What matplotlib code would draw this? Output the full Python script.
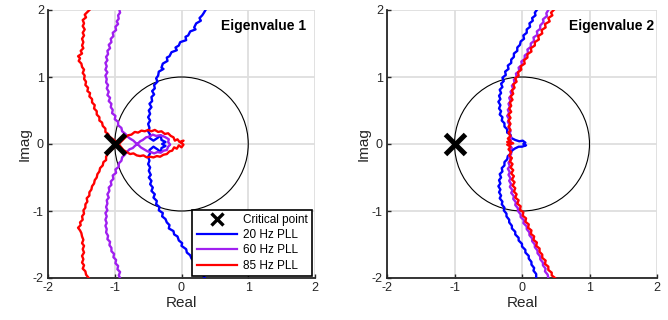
import numpy as np
import matplotlib
matplotlib.use("Agg")
import matplotlib.pyplot as plt
from matplotlib.patches import Circle
from matplotlib.lines import Line2D

plt.rcParams['font.family'] = ['Liberation Sans', 'DejaVu Sans']
plt.rcParams['axes.unicode_minus'] = False

# ---------------- data (Real, Imag) ----------------
ev1_20hz = np.array([
 (0.36,2.00),(0.33,1.95),(0.31,1.92),(0.27,1.88),(0.29,1.84),(0.22,1.80),(0.19,1.74),(0.21,1.71),(0.13,1.68),(0.10,1.62),
 (0.06,1.60),(0.07,1.55),(-0.02,1.52),(-0.04,1.47),(-0.09,1.44),(-0.07,1.40),(-0.15,1.37),(-0.18,1.31),(-0.22,1.29),(-0.21,1.24),
 (-0.28,1.20),(-0.30,1.14),(-0.27,1.12),(-0.34,1.08),(-0.35,1.02),(-0.38,0.98),(-0.36,0.93),(-0.41,0.88),(-0.40,0.83),(-0.44,0.79),
 (-0.41,0.74),(-0.45,0.70),(-0.44,0.64),(-0.48,0.60),(-0.45,0.55),(-0.49,0.50),(-0.47,0.45),(-0.50,0.40),(-0.47,0.35),(-0.50,0.30),
 (-0.48,0.24),(-0.50,0.19),(-0.47,0.14),(-0.48,0.09),
 (-0.42,0.05),(-0.36,0.09),(-0.31,0.13),(-0.30,0.06),(-0.24,0.03),(-0.29,0.00),(-0.24,-0.03),(-0.30,-0.06),(-0.31,-0.12),
 (-0.36,-0.08),(-0.42,-0.04),(-0.48,-0.09),
 (-0.47,-0.14),(-0.50,-0.19),(-0.48,-0.25),(-0.50,-0.30),(-0.47,-0.35),(-0.49,-0.40),(-0.46,-0.46),(-0.49,-0.50),(-0.45,-0.55),
 (-0.47,-0.60),(-0.43,-0.65),(-0.45,-0.70),(-0.40,-0.75),(-0.42,-0.80),(-0.37,-0.85),(-0.38,-0.90),(-0.33,-0.94),(-0.34,-0.99),
 (-0.28,-1.03),(-0.29,-1.08),(-0.24,-1.12),(-0.22,-1.17),(-0.18,-1.21),(-0.19,-1.26),(-0.12,-1.30),(-0.11,-1.35),(-0.06,-1.38),
 (-0.04,-1.44),(0.01,-1.48),(0.00,-1.52),(0.07,-1.57),(0.08,-1.62),(0.13,-1.66),(0.15,-1.71),(0.19,-1.75),(0.22,-1.80),
 (0.25,-1.84),(0.26,-1.89),(0.31,-1.93),(0.33,-1.97),(0.35,-2.00)])

ev1_60hz = np.array([
 (-0.93,2.00),(-0.92,1.96),(-0.95,1.92),(-0.94,1.87),(-0.97,1.83),(-0.95,1.79),(-0.99,1.75),(-0.98,1.70),(-1.03,1.66),(-1.02,1.61),
 (-1.06,1.57),(-1.05,1.52),(-1.09,1.48),(-1.07,1.43),(-1.11,1.39),(-1.10,1.34),(-1.13,1.30),(-1.11,1.25),(-1.14,1.21),(-1.12,1.16),
 (-1.14,1.11),(-1.11,1.07),(-1.14,1.02),(-1.12,0.97),(-1.13,0.92),(-1.10,0.88),(-1.12,0.83),(-1.09,0.78),(-1.11,0.73),(-1.07,0.69),
 (-1.09,0.64),(-1.05,0.60),(-1.06,0.55),(-1.03,0.51),(-1.04,0.46),(-0.99,0.42),(-1.00,0.37),(-0.95,0.33),(-0.95,0.28),(-0.90,0.24),
 (-0.89,0.19),(-0.84,0.15),(-0.81,0.11),(-0.77,0.08),(-0.72,0.05),(-0.69,0.02),
 (-0.65,-0.01),(-0.61,-0.05),(-0.56,-0.08),(-0.51,-0.11),(-0.46,-0.12),(-0.41,-0.14),(-0.36,-0.12),(-0.31,-0.13),(-0.27,-0.10),
 (-0.22,-0.09),(-0.20,-0.04),(-0.17,-0.01),(-0.20,0.03),(-0.19,0.07),(-0.24,0.10),(-0.28,0.12),(-0.33,0.13),(-0.38,0.12),
 (-0.43,0.14),(-0.48,0.11),(-0.53,0.10),(-0.58,0.06),(-0.62,0.04),(-0.66,0.00),
 (-0.70,-0.03),(-0.73,-0.06),(-0.78,-0.08),(-0.82,-0.12),(-0.85,-0.16),(-0.89,-0.20),(-0.90,-0.25),(-0.94,-0.29),(-0.94,-0.34),
 (-0.99,-0.38),(-0.98,-0.43),(-1.03,-0.47),(-1.02,-0.52),(-1.06,-0.56),(-1.05,-0.61),(-1.09,-0.65),(-1.08,-0.70),(-1.11,-0.75),
 (-1.09,-0.80),(-1.12,-0.84),(-1.11,-0.89),(-1.13,-0.94),(-1.11,-0.99),(-1.14,-1.03),(-1.12,-1.08),(-1.14,-1.13),(-1.12,-1.18),
 (-1.14,-1.22),(-1.12,-1.27),(-1.13,-1.32),(-1.10,-1.37),(-1.11,-1.42),(-1.07,-1.46),(-1.08,-1.51),(-1.05,-1.55),(-1.05,-1.60),
 (-1.01,-1.64),(-1.02,-1.69),(-0.98,-1.73),(-0.99,-1.78),(-0.95,-1.82),(-0.96,-1.87),(-0.92,-1.91),(-0.94,-1.96),(-0.92,-2.00)])

ev1_85hz = np.array([
 (-1.38,2.00),(-1.41,1.97),(-1.45,1.93),(-1.43,1.89),(-1.48,1.85),(-1.46,1.80),(-1.48,1.76),(-1.45,1.71),(-1.48,1.66),(-1.46,1.62),
 (-1.49,1.57),(-1.47,1.52),(-1.49,1.47),(-1.47,1.43),(-1.51,1.39),(-1.49,1.35),(-1.55,1.31),(-1.52,1.28),(-1.54,1.24),(-1.50,1.20),
 (-1.49,1.15),(-1.46,1.11),(-1.48,1.06),(-1.45,1.02),(-1.46,0.97),(-1.43,0.93),(-1.44,0.88),(-1.40,0.84),(-1.41,0.79),(-1.37,0.76),
 (-1.38,0.71),(-1.34,0.67),(-1.34,0.62),(-1.30,0.58),(-1.31,0.53),(-1.27,0.49),(-1.27,0.44),(-1.23,0.40),(-1.23,0.35),(-1.19,0.32),
 (-1.18,0.27),(-1.14,0.23),(-1.14,0.18),(-1.10,0.15),(-1.08,0.11),(-1.04,0.08),(-1.00,0.05),(-0.95,0.01),
 (-0.91,-0.04),(-0.87,-0.09),(-0.82,-0.12),(-0.77,-0.15),(-0.72,-0.14),(-0.67,-0.17),(-0.62,-0.18),(-0.57,-0.17),(-0.52,-0.20),
 (-0.47,-0.19),(-0.42,-0.20),(-0.37,-0.18),(-0.32,-0.19),(-0.27,-0.16),(-0.22,-0.15),(-0.18,-0.11),(-0.14,-0.10),(-0.11,-0.05),
 (-0.07,-0.07),(-0.04,-0.02),(0.00,-0.05),(0.03,-0.01),(-0.01,0.02),(0.03,0.05),(-0.03,0.03),(-0.06,0.07),(-0.10,0.05),
 (-0.12,0.10),(-0.16,0.12),(-0.20,0.16),(-0.25,0.15),(-0.30,0.19),(-0.35,0.18),(-0.40,0.21),(-0.45,0.19),(-0.50,0.21),
 (-0.55,0.19),(-0.60,0.20),(-0.65,0.17),(-0.70,0.18),(-0.75,0.14),(-0.80,0.13),(-0.85,0.09),(-0.89,0.05),(-0.94,0.00),
 (-0.99,-0.04),(-1.03,-0.07),
 (-1.07,-0.11),(-1.10,-0.14),(-1.13,-0.19),(-1.13,-0.24),(-1.17,-0.27),(-1.18,-0.32),(-1.22,-0.36),(-1.23,-0.41),(-1.26,-0.45),
 (-1.27,-0.50),(-1.30,-0.54),(-1.31,-0.59),(-1.34,-0.63),(-1.35,-0.68),(-1.38,-0.72),(-1.38,-0.77),(-1.42,-0.81),(-1.41,-0.86),
 (-1.44,-0.90),(-1.44,-0.95),(-1.47,-0.99),(-1.46,-1.04),(-1.49,-1.08),(-1.48,-1.13),(-1.52,-1.17),(-1.51,-1.21),(-1.55,-1.25),
 (-1.52,-1.29),(-1.50,-1.33),(-1.49,-1.38),(-1.47,-1.43),(-1.49,-1.48),(-1.46,-1.52),(-1.48,-1.57),(-1.46,-1.62),(-1.49,-1.67),
 (-1.47,-1.72),(-1.49,-1.77),(-1.46,-1.81),(-1.48,-1.86),(-1.44,-1.90),(-1.43,-1.95),(-1.39,-2.00)])

ev2_20hz = np.array([
 (0.22,2.00),(0.19,1.96),(0.20,1.92),(0.15,1.88),(0.16,1.84),(0.11,1.80),(0.12,1.75),(0.07,1.71),(0.07,1.66),(0.02,1.62),
 (0.03,1.57),(-0.02,1.53),(-0.03,1.48),(-0.07,1.44),(-0.07,1.39),(-0.12,1.35),(-0.12,1.30),(-0.16,1.26),(-0.16,1.21),(-0.21,1.17),
 (-0.20,1.12),(-0.25,1.08),(-0.24,1.03),(-0.29,0.99),(-0.27,0.94),(-0.31,0.90),(-0.29,0.85),(-0.33,0.81),(-0.31,0.76),(-0.34,0.72),
 (-0.32,0.67),(-0.35,0.63),(-0.32,0.58),(-0.34,0.53),(-0.31,0.49),(-0.33,0.44),(-0.29,0.40),(-0.30,0.35),(-0.26,0.31),(-0.26,0.26),
 (-0.22,0.22),(-0.22,0.17),(-0.17,0.14),(-0.16,0.09),(-0.10,0.06),(-0.04,0.04),(0.01,0.05),(0.05,0.02),(0.02,0.00),(0.06,-0.02),
 (0.00,-0.04),(-0.05,-0.04),(-0.11,-0.07),(-0.15,-0.10),
 (-0.17,-0.15),(-0.21,-0.18),(-0.22,-0.23),(-0.26,-0.27),(-0.26,-0.32),(-0.30,-0.36),(-0.29,-0.41),(-0.33,-0.45),(-0.31,-0.50),
 (-0.34,-0.54),(-0.32,-0.59),(-0.35,-0.63),(-0.32,-0.68),(-0.34,-0.72),(-0.31,-0.77),(-0.33,-0.81),(-0.29,-0.86),(-0.30,-0.90),
 (-0.26,-0.95),(-0.27,-0.99),(-0.23,-1.04),(-0.23,-1.08),(-0.19,-1.13),(-0.19,-1.17),(-0.15,-1.22),(-0.15,-1.26),(-0.10,-1.31),
 (-0.10,-1.35),(-0.05,-1.40),(-0.05,-1.44),(0.00,-1.49),(0.00,-1.53),(0.05,-1.58),(0.05,-1.62),(0.10,-1.67),(0.10,-1.71),
 (0.14,-1.76),(0.14,-1.80),(0.18,-1.85),(0.17,-1.89),(0.21,-1.94),(0.21,-2.00)])

ev2_60hz = np.array([
 (0.39,2.00),(0.36,1.95),(0.37,1.91),(0.31,1.86),(0.32,1.82),(0.27,1.77),(0.27,1.72),(0.22,1.68),(0.23,1.63),(0.17,1.59),
 (0.18,1.54),(0.13,1.50),(0.13,1.45),(0.08,1.41),(0.09,1.36),(0.04,1.32),(0.04,1.27),(-0.01,1.23),(0.00,1.18),(-0.05,1.14),
 (-0.04,1.09),(-0.09,1.05),(-0.08,1.00),(-0.12,0.96),(-0.11,0.91),(-0.15,0.87),(-0.13,0.82),(-0.17,0.78),(-0.15,0.73),(-0.19,0.69),
 (-0.17,0.64),(-0.20,0.60),(-0.18,0.55),(-0.21,0.51),(-0.19,0.46),(-0.22,0.42),(-0.19,0.37),(-0.21,0.33),(-0.18,0.28),(-0.20,0.24),
 (-0.17,0.19),(-0.19,0.15),(-0.16,0.10),(-0.18,0.06),(-0.15,0.02),(-0.18,-0.02),(-0.15,-0.06),(-0.18,-0.10),(-0.16,-0.15),
 (-0.19,-0.19),(-0.17,-0.24),(-0.20,-0.28),(-0.18,-0.33),(-0.21,-0.37),(-0.18,-0.42),(-0.20,-0.46),(-0.17,-0.51),(-0.19,-0.55),
 (-0.16,-0.60),(-0.18,-0.64),(-0.14,-0.69),(-0.16,-0.73),(-0.12,-0.78),(-0.13,-0.82),(-0.09,-0.87),(-0.10,-0.91),(-0.06,-0.96),
 (-0.06,-1.00),(-0.02,-1.05),(-0.02,-1.09),(0.03,-1.14),(0.02,-1.18),(0.07,-1.23),(0.07,-1.27),(0.11,-1.32),(0.11,-1.36),
 (0.15,-1.41),(0.15,-1.45),(0.19,-1.50),(0.19,-1.54),(0.23,-1.59),(0.23,-1.63),(0.27,-1.68),(0.27,-1.72),(0.31,-1.77),
 (0.31,-1.81),(0.35,-1.86),(0.34,-1.90),(0.38,-1.95),(0.39,-2.00)])

ev2_85hz = np.array([
 (0.47,2.00),(0.43,1.96),(0.45,1.92),(0.39,1.88),(0.41,1.83),(0.34,1.79),(0.35,1.74),(0.29,1.70),(0.30,1.65),(0.24,1.61),
 (0.25,1.56),(0.19,1.52),(0.19,1.47),(0.13,1.43),(0.14,1.38),(0.08,1.34),(0.08,1.29),(0.03,1.25),(0.04,1.20),(-0.02,1.16),
 (-0.01,1.11),(-0.06,1.07),(-0.05,1.02),(-0.10,0.98),(-0.08,0.93),(-0.13,0.89),(-0.11,0.84),(-0.15,0.80),(-0.13,0.75),(-0.17,0.71),
 (-0.14,0.66),(-0.18,0.62),(-0.16,0.57),(-0.19,0.53),(-0.16,0.48),(-0.20,0.44),(-0.17,0.39),(-0.20,0.35),(-0.17,0.30),(-0.20,0.26),
 (-0.17,0.21),(-0.20,0.17),(-0.17,0.12),(-0.21,0.08),(-0.17,0.05),(-0.22,0.03),(-0.13,0.01),(-0.22,-0.01),(-0.17,-0.04),
 (-0.20,-0.08),(-0.16,-0.12),
 (-0.19,-0.17),(-0.15,-0.21),(-0.18,-0.26),(-0.14,-0.30),(-0.17,-0.35),(-0.13,-0.39),(-0.16,-0.44),(-0.12,-0.48),(-0.15,-0.53),
 (-0.11,-0.57),(-0.14,-0.62),(-0.10,-0.66),(-0.12,-0.71),(-0.08,-0.75),(-0.10,-0.80),(-0.05,-0.84),(-0.07,-0.89),(-0.02,-0.93),
 (-0.03,-0.98),(0.02,-1.02),(0.01,-1.07),(0.06,-1.11),(0.05,-1.16),(0.10,-1.20),(0.09,-1.25),(0.14,-1.29),(0.13,-1.34),
 (0.18,-1.38),(0.17,-1.43),(0.22,-1.47),(0.21,-1.52),(0.26,-1.56),(0.26,-1.61),(0.30,-1.65),(0.30,-1.70),(0.35,-1.74),
 (0.34,-1.79),(0.39,-1.83),(0.39,-1.88),(0.44,-1.92),(0.44,-1.96),(0.49,-2.00)])

critical_point = (-1.0, 0.0)
series_labels = ['20 Hz PLL', '60 Hz PLL', '85 Hz PLL']
series_colors = ['#0000FF', '#A020F0', '#FF0000']
panel_titles = ['Eigenvalue 1', 'Eigenvalue 2']
ticks = [-2, -1, 0, 1, 2]

# ---------------- figure ----------------
fig = plt.figure(figsize=(6.68, 3.2), dpi=100)
ax1 = fig.add_axes([48/668, 42/320, 267/668, 268/320])
ax2 = fig.add_axes([387/668, 42/320, 270/668, 268/320])

axis_col = '#262626'
panels = [(ax1, [ev1_20hz, ev1_60hz, ev1_85hz], panel_titles[0], 1.86),
          (ax2, [ev2_20hz, ev2_60hz, ev2_85hz], panel_titles[1], 1.96)]

for ax, curves, title, tx in panels:
    ax.set_xlim(-2, 2)
    ax.set_ylim(-2, 2)
    ax.set_xticks(ticks)
    ax.set_yticks(ticks)
    ax.grid(True, color='#dedede', linewidth=1.3)
    ax.set_axisbelow(True)
    for s in ['top', 'right']:
        ax.spines[s].set_visible(False)
    for s in ['left', 'bottom']:
        ax.spines[s].set_color(axis_col)
        ax.spines[s].set_linewidth(1.3)
    ax.tick_params(direction='in', length=3, width=1, colors=axis_col,
                   labelsize=9, pad=3)
    ax.add_patch(Circle((0, 0), 1, fill=False, edgecolor='black', linewidth=0.8, zorder=2))
    for data, col in zip(curves, series_colors):
        ax.plot(data[:, 0], data[:, 1], color=col, linewidth=1.7, zorder=3, clip_on=True)
    ax.plot(critical_point[0], critical_point[1], 'x', color='black', markersize=15,
            markeredgewidth=3.6, zorder=5)
    ax.set_xlabel('Real', fontsize=11, labelpad=1, color=axis_col)
    ax.set_ylabel('Imag', fontsize=11, labelpad=1, color=axis_col)
    ax.text(tx, 1.76, title, fontsize=10, fontweight='bold', ha='right', va='center',
            color='black')

handles = [Line2D([], [], linestyle='none', marker='x', color='black', markersize=9,
                  markeredgewidth=2.4)]
handles += [Line2D([], [], color=c, linewidth=1.6) for c in series_colors]
leg = ax1.legend(handles, ['Critical point'] + series_labels, loc='lower right',
                 bbox_to_anchor=(0.987, 0.008), fontsize=8.5, frameon=True,
                 fancybox=False, edgecolor='black', framealpha=1,
                 handlelength=3.4, labelspacing=0.28, borderpad=0.35,
                 handletextpad=0.5, borderaxespad=0)
leg.get_frame().set_linewidth(1.2)
leg.set_zorder(10)

fig.savefig('out.png', dpi=100)
